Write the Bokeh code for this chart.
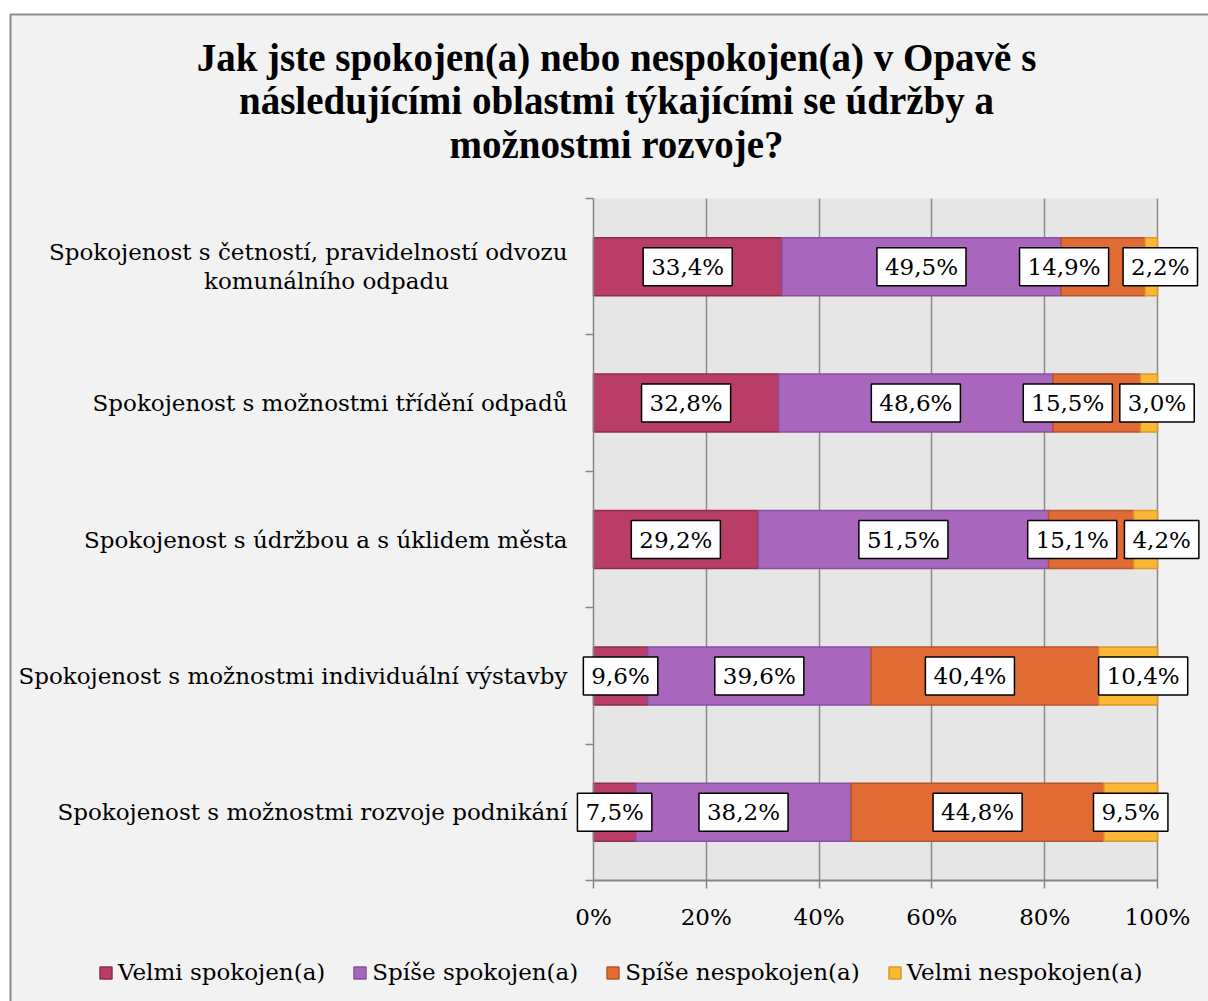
import numpy as np
from bokeh.plotting import figure
from bokeh.models import Label, Legend, LegendItem, BoxAnnotation, FixedTicker, Range1d, ColumnDataSource
from bokeh.embed import file_html
from bokeh.resources import INLINE

title_lines = [
    "Jak jste spokojen(a) nebo nespokojen(a) v Opavě s",
    "následujícími oblastmi týkajícími se údržby a",
    "možnostmi rozvoje?",
]
categories = [
    "Spokojenost s četností, pravidelností odvozu\nkomunálního odpadu",
    "Spokojenost s možnostmi třídění odpadů",
    "Spokojenost s údržbou a s úklidem města",
    "Spokojenost s možnostmi individuální výstavby",
    "Spokojenost s možnostmi rozvoje podnikání",
]
series_names = ["Velmi spokojen(a)", "Spíše spokojen(a)", "Spíše nespokojen(a)", "Velmi nespokojen(a)"]
velmi_spokojen = [33.4, 32.8, 29.2, 9.6, 7.5]
spise_spokojen = [49.5, 48.6, 51.5, 39.6, 38.2]
spise_nespokojen = [14.9, 15.5, 15.1, 40.4, 44.8]
velmi_nespokojen = [2.2, 3.0, 4.2, 10.4, 9.5]
x_tick_values = [0, 20, 40, 60, 80, 100]
x_tick_labels = ["0%", "20%", "40%", "60%", "80%", "100%"]

fill_colors = ["#b93d66", "#a966bd", "#e06b35", "#fbb735"]
line_colors = ["#8f2d4e", "#8a4f9e", "#b8552a", "#d99a2a"]

# horizontal nudges (pixels) of data labels, per series then per category, to avoid overlaps
label_nudge_px = [
    [0, 0, 0, 0, 0],
    [0, 0, 0, 0, 0],
    [-39, -29, -19, -15, 0],
    [9, 8, 16, 15, 0],
]

FONT = "DejaVu Serif"
TFONT = "Liberation Serif"
FS = "23px"
# layout (canvas pixels)
W, H = 1208, 1001
FL, FR, FT, FB = 593, 1157, 198, 880
n = len(categories)

def px_x(cx):
    return (cx - FL) / (FR - FL) * 100.0

def dpx_x(d):
    return d / (FR - FL) * 100.0

def px_y(cy):
    return n - (cy - FT) / (FB - FT) * n

def dpx_y(d):
    return d / (FB - FT) * n

p = figure(width=W, height=H, output_backend="svg", toolbar_location=None,
           x_range=Range1d(px_x(0), px_x(W)), y_range=Range1d(px_y(H), px_y(0)),
           min_border_left=0, min_border_right=0, min_border_top=0, min_border_bottom=0)
p.border_fill_color = "white"
p.background_fill_color = "white"
p.outline_line_color = None

# outer chart area and plot area
p.add_layout(BoxAnnotation(left=px_x(10), right=px_x(W + 60), top=px_y(14), bottom=px_y(H + 60),
                           fill_color="#f2f2f2", fill_alpha=1, line_color="#8c8c8c", line_alpha=1,
                           line_width=2, level="image"))
p.add_layout(BoxAnnotation(left=0, right=100, bottom=0, top=n, fill_color="#e6e6e6", fill_alpha=1,
                           line_color=None, level="image"))

# axes
p.xaxis.fixed_location = 0
p.xaxis.bounds = (0, 100)
p.xaxis.ticker = FixedTicker(ticks=x_tick_values)
p.xaxis.major_label_overrides = {v: l for v, l in zip(x_tick_values, x_tick_labels)}
p.xaxis.major_label_text_font = FONT
p.xaxis.major_label_text_font_size = FS
p.xaxis.major_label_text_color = "#000000"
p.xaxis.major_label_standoff = 15
p.xaxis.axis_line_color = "#868686"
p.xaxis.axis_line_width = 2
p.xaxis.major_tick_line_color = "#868686"
p.xaxis.major_tick_line_width = 1.5
p.xaxis.major_tick_out = 8
p.xaxis.major_tick_in = 0
p.xaxis.minor_tick_line_color = None

p.yaxis.fixed_location = 0
p.yaxis.bounds = (0, n)
p.yaxis.ticker = FixedTicker(ticks=list(range(n + 1)))
p.yaxis.major_label_text_color = None
p.yaxis.axis_line_color = "#868686"
p.yaxis.axis_line_width = 1.5
p.yaxis.major_tick_line_color = "#868686"
p.yaxis.major_tick_line_width = 1.5
p.yaxis.major_tick_out = 8
p.yaxis.major_tick_in = 0
p.yaxis.minor_tick_line_color = None

p.ygrid.grid_line_color = None
grid_ticks = x_tick_values[1:]
try:
    p.xgrid.cross_bounds = (0, n)
    p.xgrid.ticker = FixedTicker(ticks=grid_ticks)
    p.xgrid.grid_line_color = "#8c8c8c"
    p.xgrid.grid_line_width = 1.5
except Exception:
    p.xgrid.grid_line_color = None
    p.segment(x0=grid_ticks, x1=grid_ticks, y0=[0] * len(grid_ticks), y1=[n] * len(grid_ticks),
              line_color="#8c8c8c", line_width=1.5, level="underlay")

# bars
values = np.array([velmi_spokojen, spise_spokojen, spise_nespokojen, velmi_nespokojen], dtype=float)
totals = values.sum(axis=0)
shares = values / totals * 100.0
rights = np.cumsum(shares, axis=0)
lefts = rights - shares
ys = n - np.arange(n) - 0.5

legend_items = []
for k, name in enumerate(series_names):
    src = ColumnDataSource(dict(y=ys, left=lefts[k], right=rights[k]))
    r = p.hbar(y="y", left="left", right="right", height=0.425, source=src,
               fill_color=fill_colors[k], line_color=line_colors[k], line_width=1.5)
    legend_items.append(LegendItem(label=name, renderers=[r]))
    for i in range(n):
        txt = ("%.1f%%" % values[k, i]).replace(".", ",")
        cx = (lefts[k, i] + rights[k, i]) / 2 + dpx_x(label_nudge_px[k][i])
        p.add_layout(Label(x=cx, y=ys[i], text=txt,
                           text_align="center", text_baseline="middle",
                           text_font=FONT, text_font_size=FS, text_color="#000000",
                           background_fill_color="white", border_line_color="black",
                           border_line_width=1.5,
                           padding=dict(left=8, right=8, top=6, bottom=6)))

# category labels
for i, cat in enumerate(categories):
    lines = cat.split("\n")
    if len(lines) == 1:
        p.add_layout(Label(x=px_x(567), y=ys[i], text=lines[0], text_align="right",
                           text_baseline="middle", text_font=FONT, text_font_size=FS,
                           text_color="#000000"))
    else:
        dy = dpx_y(14.7)
        p.add_layout(Label(x=px_x(567), y=ys[i] + dy, text=lines[0], text_align="right",
                           text_baseline="middle", text_font=FONT, text_font_size=FS,
                           text_color="#000000"))
        p.add_layout(Label(x=px_x(326), y=ys[i] - dy, text=lines[1], text_align="center",
                           text_baseline="middle", text_font=FONT, text_font_size=FS,
                           text_color="#000000"))

# title
for t, ty in zip(title_lines, [56.6, 100.1, 143.6]):
    p.add_layout(Label(x=px_x(616), y=px_y(ty), text=t, text_align="center",
                       text_baseline="middle", text_font=TFONT, text_font_size="39px",
                       text_font_style="bold", text_color="#000000"))

legend = Legend(items=legend_items, orientation="horizontal",
                location=(98, H - 985),
                label_text_font=FONT, label_text_font_size=FS, label_text_color="#000000",
                glyph_width=15, glyph_height=15, label_standoff=5, spacing=27,
                padding=0, margin=0, background_fill_alpha=0, border_line_color=None)
p.add_layout(legend)

open("out.html", "w").write(file_html(p, INLINE))
